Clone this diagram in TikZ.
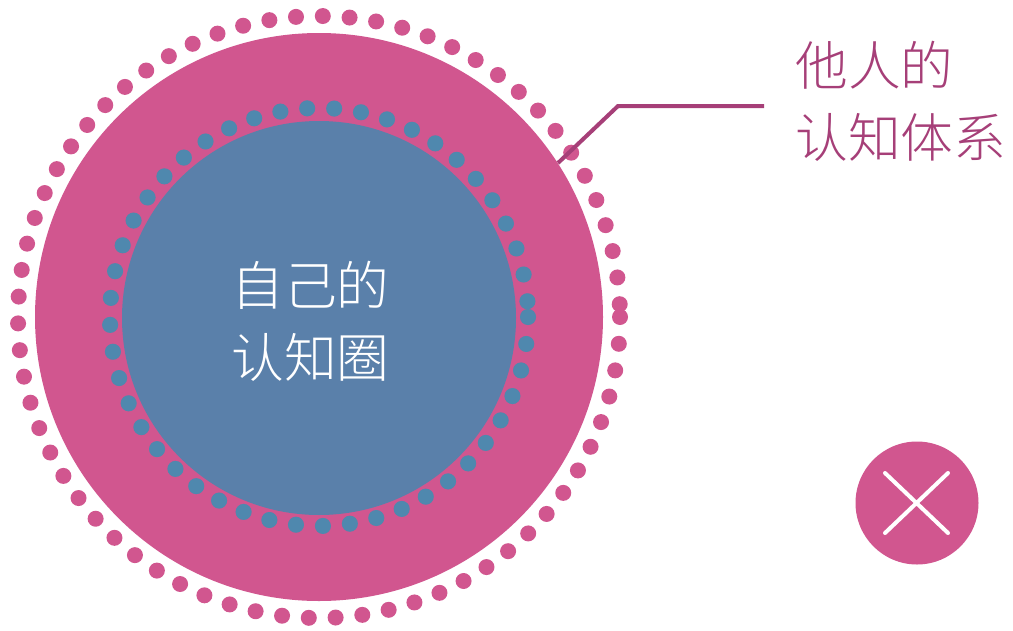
\documentclass[tikz,border=0pt]{standalone}
\usepackage{fontspec}
\setmainfont{Noto Sans CJK SC Light}
\definecolor{rosefill}{HTML}{D1568F}
\definecolor{rosedark}{HTML}{A63F78}
\definecolor{bluefill}{HTML}{5A80AA}
\definecolor{bluedot}{HTML}{4F88AE}
\tikzset{
  disc/.style={circle,inner sep=0pt,minimum size=#1},
  label/.style={align=left,font=\fontsize{30}{41}\selectfont,inner sep=0pt},
}
\begin{document}
\begin{tikzpicture}
    \useasboundingbox (0,0) rectangle (20.26,12.6);
    \coordinate (C) at (6.38,6.26);
    \node[disc=11.36cm,fill=rosefill] (other) at (C) {};
    \foreach \i in {0,...,70}
      \fill[rosefill] (C) ++(-\i*5.108:6.02) circle (0.16);
    \foreach \i in {0,...,48}
      \fill[bluedot] (C) ++(-\i*7.41:4.18) circle (0.16);
    \node[disc=7.88cm,fill=bluefill] (self) at (6.38,6.24) {};
    \foreach \i in {0,...,48}
      \fill[bluedot,opacity=0.35] (C) ++(-\i*7.41:4.18) circle (0.16);
    \node[label,white,anchor=west] (selftext) at (4.62,6.17) {自己的\\认知圈};

    \coordinate (start) at (11.16,9.34);
    \coordinate (bend) at (12.36,10.48);
    \coordinate (end) at (15.28,10.48);
    \draw[rosedark,line width=0.08cm] (start) -- (bend) -- (end);
    \node[label,rosedark,anchor=west] (othertext) at (15.9,10.58) {他人的\\认知体系};

    \node[disc=2.46cm,fill=rosefill] (cross) at (18.34,2.54) {};
    \coordinate (a) at (17.7,3.14);
    \coordinate (b) at (18.96,1.94);
    \coordinate (c) at (18.96,3.14);
    \coordinate (d) at (17.7,1.94);
    \draw[white,line width=0.08cm,line cap=round] (a) -- (b) (c) -- (d);
\end{tikzpicture}
\end{document}
